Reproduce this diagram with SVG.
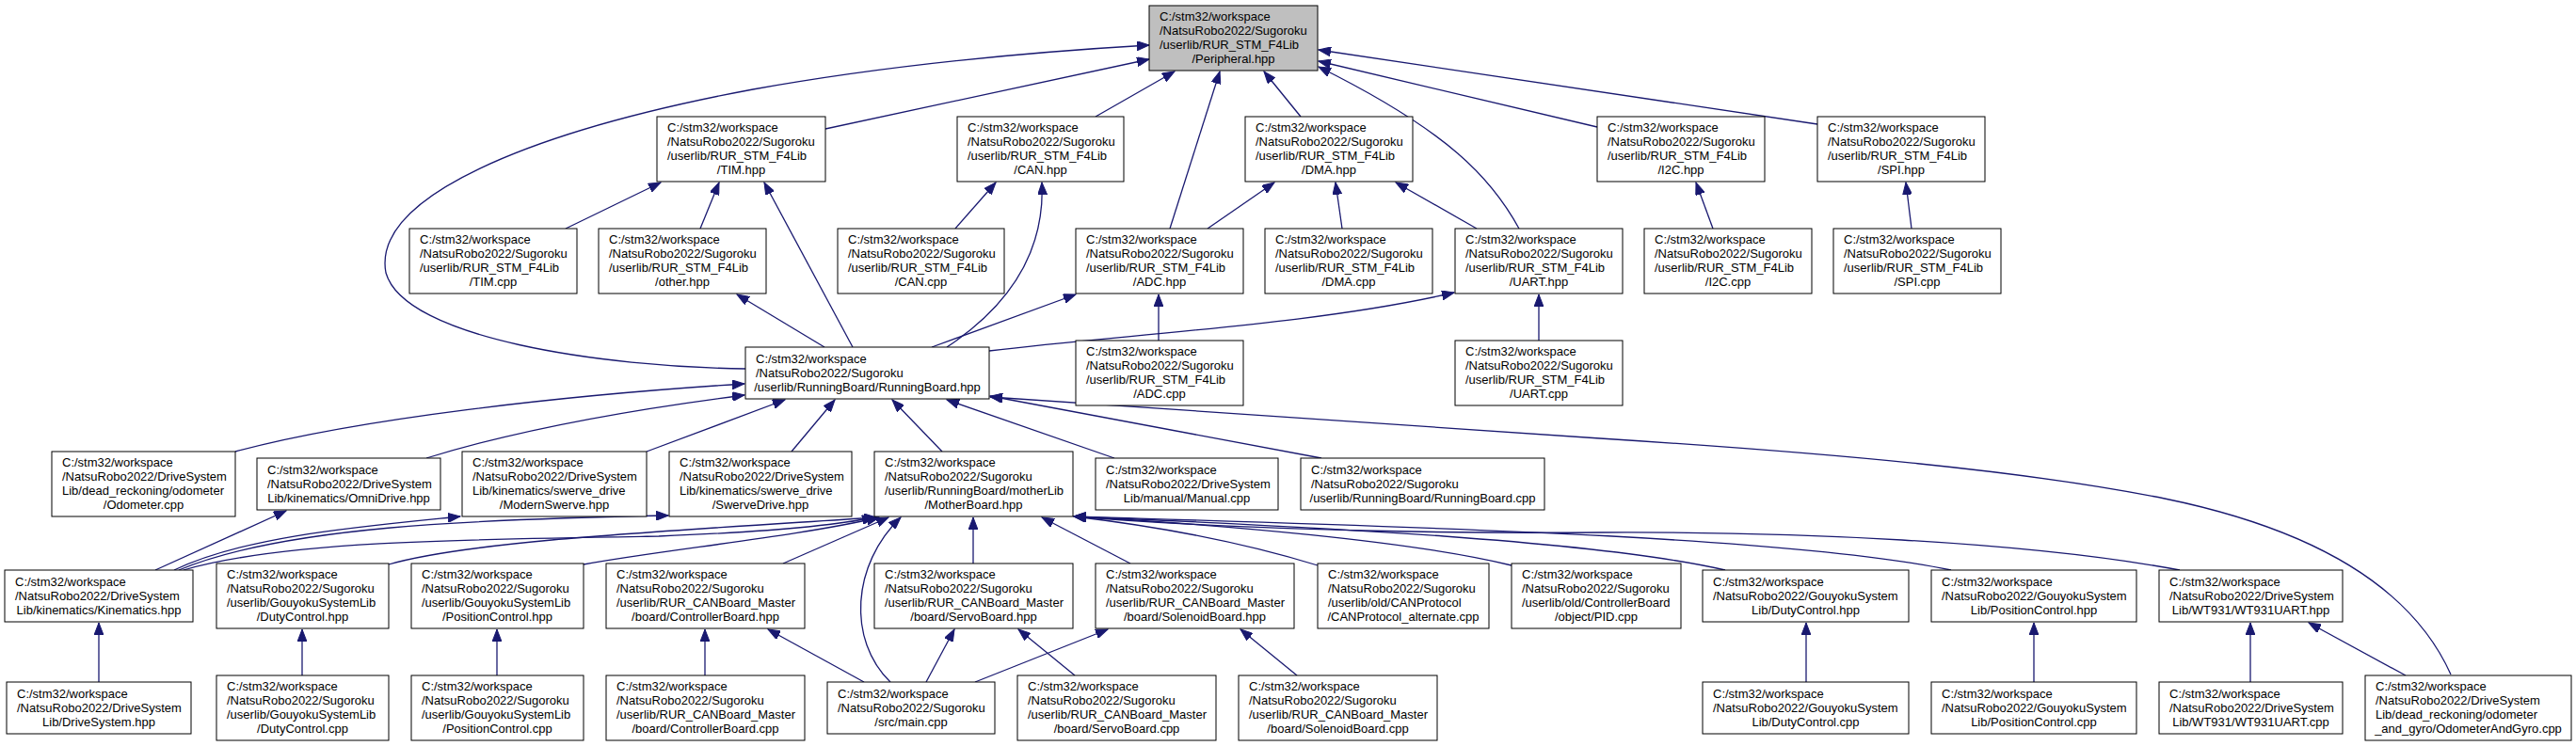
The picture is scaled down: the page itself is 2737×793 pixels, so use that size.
<svg xmlns="http://www.w3.org/2000/svg" width="2737" height="793" viewBox="0 0 2737 793">
<style>
rect{fill:#fff;stroke:#000;stroke-width:1}
rect.root{fill:#bfbfbf}
text{font-family:"Liberation Sans",Arial,Helvetica,sans-serif;font-size:13px;fill:#000}
text.c{text-anchor:middle}
#edges path{fill:none;stroke:#191970;stroke-width:1.3;marker-end:url(#arr)}
</style>
<defs>
<marker id="arr" markerUnits="userSpaceOnUse" markerWidth="14" markerHeight="10" refX="13" refY="5" orient="auto">
<path d="M0,0 L13,5 L0,10 z" fill="#191970" stroke="#191970" stroke-width="1"/>
</marker>
</defs>
<rect x="0" y="0" width="2737" height="793" style="fill:#fff;stroke:none"/>
<g id="edges">
<path d="M877,137 L1221,63"/>
<path d="M792,392 C640,390 430,360 410,290 C395,210 560,140 800,95 C950,68 1100,55 1221,48"/>
<path d="M1164,124 L1248,76"/>
<path d="M1243,243 L1296,76"/>
<path d="M1382,124 L1343,76"/>
<path d="M1614,243 C1585,190 1540,140 1401,71"/>
<path d="M1697,135 L1401,65"/>
<path d="M1931,132 L1401,53"/>
<path d="M601,243 L702,194"/>
<path d="M744,243 L764,194"/>
<path d="M906,369 L812,194"/>
<path d="M876,369 L783,313"/>
<path d="M1015,243 L1058,194"/>
<path d="M1006,369 C1080,320 1110,260 1107,194"/>
<path d="M990,369 L1143,313"/>
<path d="M1231,362 L1231,313"/>
<path d="M1283,243 L1354,194"/>
<path d="M1426,243 L1419,194"/>
<path d="M1569,243 L1483,194"/>
<path d="M1635,362 L1635,313"/>
<path d="M1051,373 C1200,355 1400,345 1545,311"/>
<path d="M1820,243 L1802,194"/>
<path d="M2031,243 L2025,194"/>
<path d="M250,480 C380,445 600,420 791,408"/>
<path d="M453,487 C540,460 650,438 791,420"/>
<path d="M687,480 L834,425"/>
<path d="M841,480 L887,425"/>
<path d="M1001,480 L948,425"/>
<path d="M1184,487 L1006,425"/>
<path d="M1404,487 L1052,421"/>
<path d="M2604,717 C2565,630 2470,565 2300,530 C2150,500 1950,482 1700,466 C1450,450 1250,437 1052,422"/>
<path d="M165,606 L304,543"/>
<path d="M185,606 C260,570 380,560 489,549"/>
<path d="M190,606 C300,560 500,552 710,548"/>
<path d="M195,606 C300,575 500,573 700,570 C800,566 880,560 929,550"/>
<path d="M413,600 C500,575 700,565 931,550"/>
<path d="M620,600 C700,585 850,570 934,550"/>
<path d="M832,599 L944,550"/>
<path d="M946,725 C900,680 905,600 957,550"/>
<path d="M1034,599 L1034,550"/>
<path d="M1201,599 L1107,550"/>
<path d="M1400,601 C1300,570 1200,556 1141,549"/>
<path d="M1606,601 C1500,575 1300,558 1141,549"/>
<path d="M1833,606 C1700,575 1400,560 1141,549"/>
<path d="M2073,606 C1900,570 1500,560 1141,549"/>
<path d="M2316,606 C2150,575 1900,565 1700,566 C1450,568 1250,558 1141,549"/>
<path d="M105,725 L105,662"/>
<path d="M321,718 L321,669"/>
<path d="M528,718 L528,669"/>
<path d="M749,718 L749,669"/>
<path d="M918,725 L816,669"/>
<path d="M984,725 L1014,669"/>
<path d="M1036,725 L1177,669"/>
<path d="M1142,718 L1082,669"/>
<path d="M1378,718 L1318,669"/>
<path d="M1919,725 L1919,662"/>
<path d="M2161,725 L2161,662"/>
<path d="M2391,725 L2391,662"/>
<path d="M2556,718 L2453,662"/>
</g>
<g id="n_peripheral"><rect class="root" x="1221" y="6" width="179" height="69"/><text x="1232" y="22">C:/stm32/workspace</text><text x="1232" y="37">/NatsuRobo2022/Sugoroku</text><text x="1232" y="52">/userlib/RUR_STM_F4Lib</text><text class="c" x="1310.5" y="67">/Peripheral.hpp</text></g>
<g id="n_tim_hpp"><rect x="698" y="124" width="179" height="69"/><text x="709" y="140">C:/stm32/workspace</text><text x="709" y="155">/NatsuRobo2022/Sugoroku</text><text x="709" y="170">/userlib/RUR_STM_F4Lib</text><text class="c" x="787.5" y="185">/TIM.hpp</text></g>
<g id="n_can_hpp"><rect x="1017" y="124" width="177" height="69"/><text x="1028" y="140">C:/stm32/workspace</text><text x="1028" y="155">/NatsuRobo2022/Sugoroku</text><text x="1028" y="170">/userlib/RUR_STM_F4Lib</text><text class="c" x="1105.5" y="185">/CAN.hpp</text></g>
<g id="n_dma_hpp"><rect x="1323" y="124" width="178" height="69"/><text x="1334" y="140">C:/stm32/workspace</text><text x="1334" y="155">/NatsuRobo2022/Sugoroku</text><text x="1334" y="170">/userlib/RUR_STM_F4Lib</text><text class="c" x="1412" y="185">/DMA.hpp</text></g>
<g id="n_i2c_hpp"><rect x="1697" y="124" width="178" height="69"/><text x="1708" y="140">C:/stm32/workspace</text><text x="1708" y="155">/NatsuRobo2022/Sugoroku</text><text x="1708" y="170">/userlib/RUR_STM_F4Lib</text><text class="c" x="1786" y="185">/I2C.hpp</text></g>
<g id="n_spi_hpp"><rect x="1931" y="124" width="178" height="69"/><text x="1942" y="140">C:/stm32/workspace</text><text x="1942" y="155">/NatsuRobo2022/Sugoroku</text><text x="1942" y="170">/userlib/RUR_STM_F4Lib</text><text class="c" x="2020" y="185">/SPI.hpp</text></g>
<g id="n_tim_cpp"><rect x="435" y="243" width="178" height="69"/><text x="446" y="259">C:/stm32/workspace</text><text x="446" y="274">/NatsuRobo2022/Sugoroku</text><text x="446" y="289">/userlib/RUR_STM_F4Lib</text><text class="c" x="524" y="304">/TIM.cpp</text></g>
<g id="n_other_hpp"><rect x="636" y="243" width="178" height="69"/><text x="647" y="259">C:/stm32/workspace</text><text x="647" y="274">/NatsuRobo2022/Sugoroku</text><text x="647" y="289">/userlib/RUR_STM_F4Lib</text><text class="c" x="725" y="304">/other.hpp</text></g>
<g id="n_can_cpp"><rect x="890" y="243" width="177" height="69"/><text x="901" y="259">C:/stm32/workspace</text><text x="901" y="274">/NatsuRobo2022/Sugoroku</text><text x="901" y="289">/userlib/RUR_STM_F4Lib</text><text class="c" x="978.5" y="304">/CAN.cpp</text></g>
<g id="n_adc_hpp"><rect x="1143" y="243" width="178" height="69"/><text x="1154" y="259">C:/stm32/workspace</text><text x="1154" y="274">/NatsuRobo2022/Sugoroku</text><text x="1154" y="289">/userlib/RUR_STM_F4Lib</text><text class="c" x="1232" y="304">/ADC.hpp</text></g>
<g id="n_dma_cpp"><rect x="1344" y="243" width="178" height="69"/><text x="1355" y="259">C:/stm32/workspace</text><text x="1355" y="274">/NatsuRobo2022/Sugoroku</text><text x="1355" y="289">/userlib/RUR_STM_F4Lib</text><text class="c" x="1433" y="304">/DMA.cpp</text></g>
<g id="n_uart_hpp"><rect x="1546" y="243" width="178" height="69"/><text x="1557" y="259">C:/stm32/workspace</text><text x="1557" y="274">/NatsuRobo2022/Sugoroku</text><text x="1557" y="289">/userlib/RUR_STM_F4Lib</text><text class="c" x="1635" y="304">/UART.hpp</text></g>
<g id="n_i2c_cpp"><rect x="1747" y="243" width="178" height="69"/><text x="1758" y="259">C:/stm32/workspace</text><text x="1758" y="274">/NatsuRobo2022/Sugoroku</text><text x="1758" y="289">/userlib/RUR_STM_F4Lib</text><text class="c" x="1836" y="304">/I2C.cpp</text></g>
<g id="n_spi_cpp"><rect x="1948" y="243" width="178" height="69"/><text x="1959" y="259">C:/stm32/workspace</text><text x="1959" y="274">/NatsuRobo2022/Sugoroku</text><text x="1959" y="289">/userlib/RUR_STM_F4Lib</text><text class="c" x="2037" y="304">/SPI.cpp</text></g>
<g id="n_runningboard_hpp"><rect x="792" y="369" width="259" height="55"/><text x="803" y="386">C:/stm32/workspace</text><text x="803" y="401">/NatsuRobo2022/Sugoroku</text><text class="c" x="921.5" y="416">/userlib/RunningBoard/RunningBoard.hpp</text></g>
<g id="n_adc_cpp"><rect x="1143" y="362" width="178" height="69"/><text x="1154" y="378">C:/stm32/workspace</text><text x="1154" y="393">/NatsuRobo2022/Sugoroku</text><text x="1154" y="408">/userlib/RUR_STM_F4Lib</text><text class="c" x="1232" y="423">/ADC.cpp</text></g>
<g id="n_uart_cpp"><rect x="1546" y="362" width="178" height="69"/><text x="1557" y="378">C:/stm32/workspace</text><text x="1557" y="393">/NatsuRobo2022/Sugoroku</text><text x="1557" y="408">/userlib/RUR_STM_F4Lib</text><text class="c" x="1635" y="423">/UART.cpp</text></g>
<g id="n_odometer_cpp"><rect x="55" y="480" width="195" height="69"/><text x="66" y="496">C:/stm32/workspace</text><text x="66" y="511">/NatsuRobo2022/DriveSystem</text><text x="66" y="526">Lib/dead_reckoning/odometer</text><text class="c" x="152.5" y="541">/Odometer.cpp</text></g>
<g id="n_omnidrive_hpp"><rect x="273" y="487" width="195" height="55"/><text x="284" y="504">C:/stm32/workspace</text><text x="284" y="519">/NatsuRobo2022/DriveSystem</text><text class="c" x="370.5" y="534">Lib/kinematics/OmniDrive.hpp</text></g>
<g id="n_modernswerve_hpp"><rect x="491" y="480" width="196" height="69"/><text x="502" y="496">C:/stm32/workspace</text><text x="502" y="511">/NatsuRobo2022/DriveSystem</text><text x="502" y="526">Lib/kinematics/swerve_drive</text><text class="c" x="589" y="541">/ModernSwerve.hpp</text></g>
<g id="n_swervedrive_hpp"><rect x="711" y="480" width="194" height="69"/><text x="722" y="496">C:/stm32/workspace</text><text x="722" y="511">/NatsuRobo2022/DriveSystem</text><text x="722" y="526">Lib/kinematics/swerve_drive</text><text class="c" x="808" y="541">/SwerveDrive.hpp</text></g>
<g id="n_motherboard_hpp"><rect x="929" y="480" width="211" height="69"/><text x="940" y="496">C:/stm32/workspace</text><text x="940" y="511">/NatsuRobo2022/Sugoroku</text><text x="940" y="526">/userlib/RunningBoard/motherLib</text><text class="c" x="1034.5" y="541">/MotherBoard.hpp</text></g>
<g id="n_manual_cpp"><rect x="1164" y="487" width="194" height="55"/><text x="1175" y="504">C:/stm32/workspace</text><text x="1175" y="519">/NatsuRobo2022/DriveSystem</text><text class="c" x="1261" y="534">Lib/manual/Manual.cpp</text></g>
<g id="n_runningboard_cpp"><rect x="1382" y="487" width="259" height="55"/><text x="1393" y="504">C:/stm32/workspace</text><text x="1393" y="519">/NatsuRobo2022/Sugoroku</text><text class="c" x="1511.5" y="534">/userlib/RunningBoard/RunningBoard.cpp</text></g>
<g id="n_kinematics_hpp"><rect x="5" y="606" width="200" height="55"/><text x="16" y="623">C:/stm32/workspace</text><text x="16" y="638">/NatsuRobo2022/DriveSystem</text><text class="c" x="105" y="653">Lib/kinematics/Kinematics.hpp</text></g>
<g id="n_dutycontrol_hpp_u"><rect x="230" y="599" width="183" height="69"/><text x="241" y="615">C:/stm32/workspace</text><text x="241" y="630">/NatsuRobo2022/Sugoroku</text><text x="241" y="645">/userlib/GouyokuSystemLib</text><text class="c" x="321.5" y="660">/DutyControl.hpp</text></g>
<g id="n_positioncontrol_hpp_u"><rect x="437" y="599" width="183" height="69"/><text x="448" y="615">C:/stm32/workspace</text><text x="448" y="630">/NatsuRobo2022/Sugoroku</text><text x="448" y="645">/userlib/GouyokuSystemLib</text><text class="c" x="528.5" y="660">/PositionControl.hpp</text></g>
<g id="n_controllerboard_hpp"><rect x="644" y="599" width="211" height="69"/><text x="655" y="615">C:/stm32/workspace</text><text x="655" y="630">/NatsuRobo2022/Sugoroku</text><text x="655" y="645">/userlib/RUR_CANBoard_Master</text><text class="c" x="749.5" y="660">/board/ControllerBoard.hpp</text></g>
<g id="n_servoboard_hpp"><rect x="929" y="599" width="211" height="69"/><text x="940" y="615">C:/stm32/workspace</text><text x="940" y="630">/NatsuRobo2022/Sugoroku</text><text x="940" y="645">/userlib/RUR_CANBoard_Master</text><text class="c" x="1034.5" y="660">/board/ServoBoard.hpp</text></g>
<g id="n_solenoidboard_hpp"><rect x="1164" y="599" width="211" height="69"/><text x="1175" y="615">C:/stm32/workspace</text><text x="1175" y="630">/NatsuRobo2022/Sugoroku</text><text x="1175" y="645">/userlib/RUR_CANBoard_Master</text><text class="c" x="1269.5" y="660">/board/SolenoidBoard.hpp</text></g>
<g id="n_canprotocol_cpp"><rect x="1400" y="599" width="182" height="69"/><text x="1411" y="615">C:/stm32/workspace</text><text x="1411" y="630">/NatsuRobo2022/Sugoroku</text><text x="1411" y="645">/userlib/old/CANProtocol</text><text class="c" x="1491" y="660">/CANProtocol_alternate.cpp</text></g>
<g id="n_pid_cpp"><rect x="1606" y="599" width="180" height="69"/><text x="1617" y="615">C:/stm32/workspace</text><text x="1617" y="630">/NatsuRobo2022/Sugoroku</text><text x="1617" y="645">/userlib/old/ControllerBoard</text><text class="c" x="1696" y="660">/object/PID.cpp</text></g>
<g id="n_dutycontrol_hpp_g"><rect x="1809" y="606" width="219" height="55"/><text x="1820" y="623">C:/stm32/workspace</text><text x="1820" y="638">/NatsuRobo2022/GouyokuSystem</text><text class="c" x="1918.5" y="653">Lib/DutyControl.hpp</text></g>
<g id="n_positioncontrol_hpp_g"><rect x="2052" y="606" width="218" height="55"/><text x="2063" y="623">C:/stm32/workspace</text><text x="2063" y="638">/NatsuRobo2022/GouyokuSystem</text><text class="c" x="2161" y="653">Lib/PositionControl.hpp</text></g>
<g id="n_wt931uart_hpp"><rect x="2294" y="606" width="195" height="55"/><text x="2305" y="623">C:/stm32/workspace</text><text x="2305" y="638">/NatsuRobo2022/DriveSystem</text><text class="c" x="2391.5" y="653">Lib/WT931/WT931UART.hpp</text></g>
<g id="n_drivesystem_hpp"><rect x="7" y="725" width="196" height="55"/><text x="18" y="742">C:/stm32/workspace</text><text x="18" y="757">/NatsuRobo2022/DriveSystem</text><text class="c" x="105" y="772">Lib/DriveSystem.hpp</text></g>
<g id="n_dutycontrol_cpp_u"><rect x="230" y="718" width="183" height="69"/><text x="241" y="734">C:/stm32/workspace</text><text x="241" y="749">/NatsuRobo2022/Sugoroku</text><text x="241" y="764">/userlib/GouyokuSystemLib</text><text class="c" x="321.5" y="779">/DutyControl.cpp</text></g>
<g id="n_positioncontrol_cpp_u"><rect x="437" y="718" width="183" height="69"/><text x="448" y="734">C:/stm32/workspace</text><text x="448" y="749">/NatsuRobo2022/Sugoroku</text><text x="448" y="764">/userlib/GouyokuSystemLib</text><text class="c" x="528.5" y="779">/PositionControl.cpp</text></g>
<g id="n_controllerboard_cpp"><rect x="644" y="718" width="211" height="69"/><text x="655" y="734">C:/stm32/workspace</text><text x="655" y="749">/NatsuRobo2022/Sugoroku</text><text x="655" y="764">/userlib/RUR_CANBoard_Master</text><text class="c" x="749.5" y="779">/board/ControllerBoard.cpp</text></g>
<g id="n_main_cpp"><rect x="879" y="725" width="178" height="55"/><text x="890" y="742">C:/stm32/workspace</text><text x="890" y="757">/NatsuRobo2022/Sugoroku</text><text class="c" x="968" y="772">/src/main.cpp</text></g>
<g id="n_servoboard_cpp"><rect x="1081" y="718" width="211" height="69"/><text x="1092" y="734">C:/stm32/workspace</text><text x="1092" y="749">/NatsuRobo2022/Sugoroku</text><text x="1092" y="764">/userlib/RUR_CANBoard_Master</text><text class="c" x="1186.5" y="779">/board/ServoBoard.cpp</text></g>
<g id="n_solenoidboard_cpp"><rect x="1316" y="718" width="211" height="69"/><text x="1327" y="734">C:/stm32/workspace</text><text x="1327" y="749">/NatsuRobo2022/Sugoroku</text><text x="1327" y="764">/userlib/RUR_CANBoard_Master</text><text class="c" x="1421.5" y="779">/board/SolenoidBoard.cpp</text></g>
<g id="n_dutycontrol_cpp_g"><rect x="1809" y="725" width="219" height="55"/><text x="1820" y="742">C:/stm32/workspace</text><text x="1820" y="757">/NatsuRobo2022/GouyokuSystem</text><text class="c" x="1918.5" y="772">Lib/DutyControl.cpp</text></g>
<g id="n_positioncontrol_cpp_g"><rect x="2052" y="725" width="218" height="55"/><text x="2063" y="742">C:/stm32/workspace</text><text x="2063" y="757">/NatsuRobo2022/GouyokuSystem</text><text class="c" x="2161" y="772">Lib/PositionControl.cpp</text></g>
<g id="n_wt931uart_cpp"><rect x="2294" y="725" width="195" height="55"/><text x="2305" y="742">C:/stm32/workspace</text><text x="2305" y="757">/NatsuRobo2022/DriveSystem</text><text class="c" x="2391.5" y="772">Lib/WT931/WT931UART.cpp</text></g>
<g id="n_odometerandgyro_cpp"><rect x="2513" y="718" width="219" height="69"/><text x="2524" y="734">C:/stm32/workspace</text><text x="2524" y="749">/NatsuRobo2022/DriveSystem</text><text x="2524" y="764">Lib/dead_reckoning/odometer</text><text class="c" x="2622.5" y="779">_and_gyro/OdometerAndGyro.cpp</text></g>
</svg>
